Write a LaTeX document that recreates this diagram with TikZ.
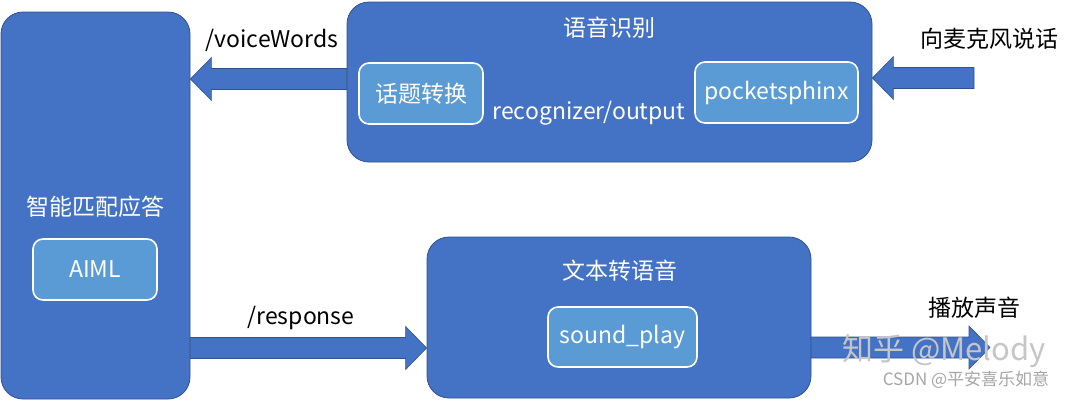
\documentclass[tikz,border=0pt]{standalone}
\usepackage{fontspec}
\setmainfont{Noto Sans CJK SC}
\usetikzlibrary{calc}
\definecolor{boxblue}{HTML}{4472C4}
\definecolor{boxedge}{HTML}{2F528F}
\definecolor{innerblue}{HTML}{5B9BD5}
\tikzset{
  mainbox/.style={draw=boxedge, fill=boxblue, line width=0.8pt, rounded corners=22pt, inner sep=0pt},
  innerbox/.style={draw=white, fill=innerblue, line width=1.6pt, rounded corners=10pt, text=white,
    font=\fontsize{23}{27}\selectfont, inner sep=0pt},
  wlabel/.style={text=white, font=\fontsize{23}{27}\selectfont, inner sep=0pt},
  blabel/.style={text=black, font=\fontsize{23}{27}\selectfont, inner sep=0pt},
  barrow/.style={fill=boxblue, draw=boxedge, line width=0.6pt},
  wmark/.style={text=gray!45, inner sep=0pt},
}
\newcommand\blkarrowL[2]{% tip on the left
  \filldraw[barrow] let \p1=(#1), \p2=(#2) in
    (\x1,\y1) -- (\x1+21pt,\y1+21.5pt) -- (\x1+21pt,\y1+10.5pt) -- (\x2,\y1+10.5pt)
    -- (\x2,\y1-10.5pt) -- (\x1+21pt,\y1-10.5pt) -- (\x1+21pt,\y1-21.5pt) -- cycle;}
\newcommand\blkarrowR[2]{% tip on the right
  \filldraw[barrow] let \p1=(#1), \p2=(#2) in
    (\x1,\y1) -- (\x1-21pt,\y1+21.5pt) -- (\x1-21pt,\y1+10.5pt) -- (\x2,\y1+10.5pt)
    -- (\x2,\y1-10.5pt) -- (\x1-21pt,\y1-10.5pt) -- (\x1-21pt,\y1-21.5pt) -- cycle;}
\begin{document}
\begin{tikzpicture}[x=1pt,y=-1pt]
\useasboundingbox (0,0) rectangle (1078,400);
% main boxes
\path (95.5,205.5) node[mainbox, minimum width=189pt, minimum height=387pt] (aiml) {};
\path (609.5,82) node[mainbox, minimum width=525pt, minimum height=160pt] (asr) {};
\path (619,317.5) node[mainbox, minimum width=384pt, minimum height=161pt] (tts) {};
% arrow end points
\coordinate (vwtip) at (aiml.east |- 0,79);
\coordinate (vwtail) at (asr.west |- vwtip);
\coordinate (mictip) at (asr.east |- 0,78);
\coordinate (micsrc) at (974,78);
\coordinate (rstip) at (tts.west |- 0,348);
\coordinate (rstail) at (aiml.east |- rstip);
\coordinate (spktail) at (tts.east |- 0,347.5);
\coordinate (spk) at (990,347.5);
% block arrows
\blkarrowL{vwtip}{vwtail}
\blkarrowL{mictip}{micsrc}
\blkarrowR{rstip}{rstail}
\blkarrowR{spk}{spktail}
% titles
\node[wlabel] (aimltitle) at (95,207) {智能匹配应答};
\node[wlabel] (asrtitle) at (609,28) {语音识别};
\node[wlabel] (ttstitle) at (620,271) {文本转语音};
% inner boxes
\node[innerbox, minimum width=124pt, minimum height=61pt] (topic) at (421,93.5) {话题转换};
\node[innerbox, minimum width=163pt, minimum height=61pt] (sphinx) at (776.5,92.5) {pocketsphinx};
\node[innerbox, minimum width=124pt, minimum height=61pt] (aimlin) at (95,269.5) {AIML};
\node[innerbox, minimum width=149pt, minimum height=60pt] (sound) at (622.5,337) {sound\_play};
% labels
\node[wlabel] (recog) at (589,113) {recognizer/output};
\node[blabel] (vwlabel) at (272,40) {/voiceWords};
\node[blabel] (miclabel) at (989,39) {向麦克风说话};
\node[blabel] (rslabel) at (301,318) {/response};
\node[blabel] (spklabel) at (974,308) {播放声音};
% watermark
\node[wmark, font=\fontsize{31}{35}\selectfont] (wm1) at (944,351) {知乎 @Melody};
\node[wmark, text=gray!70, font=\fontsize{17}{20}\selectfont] (wm2) at (966,380) {CSDN @平安喜乐如意};
\end{tikzpicture}
\end{document}
